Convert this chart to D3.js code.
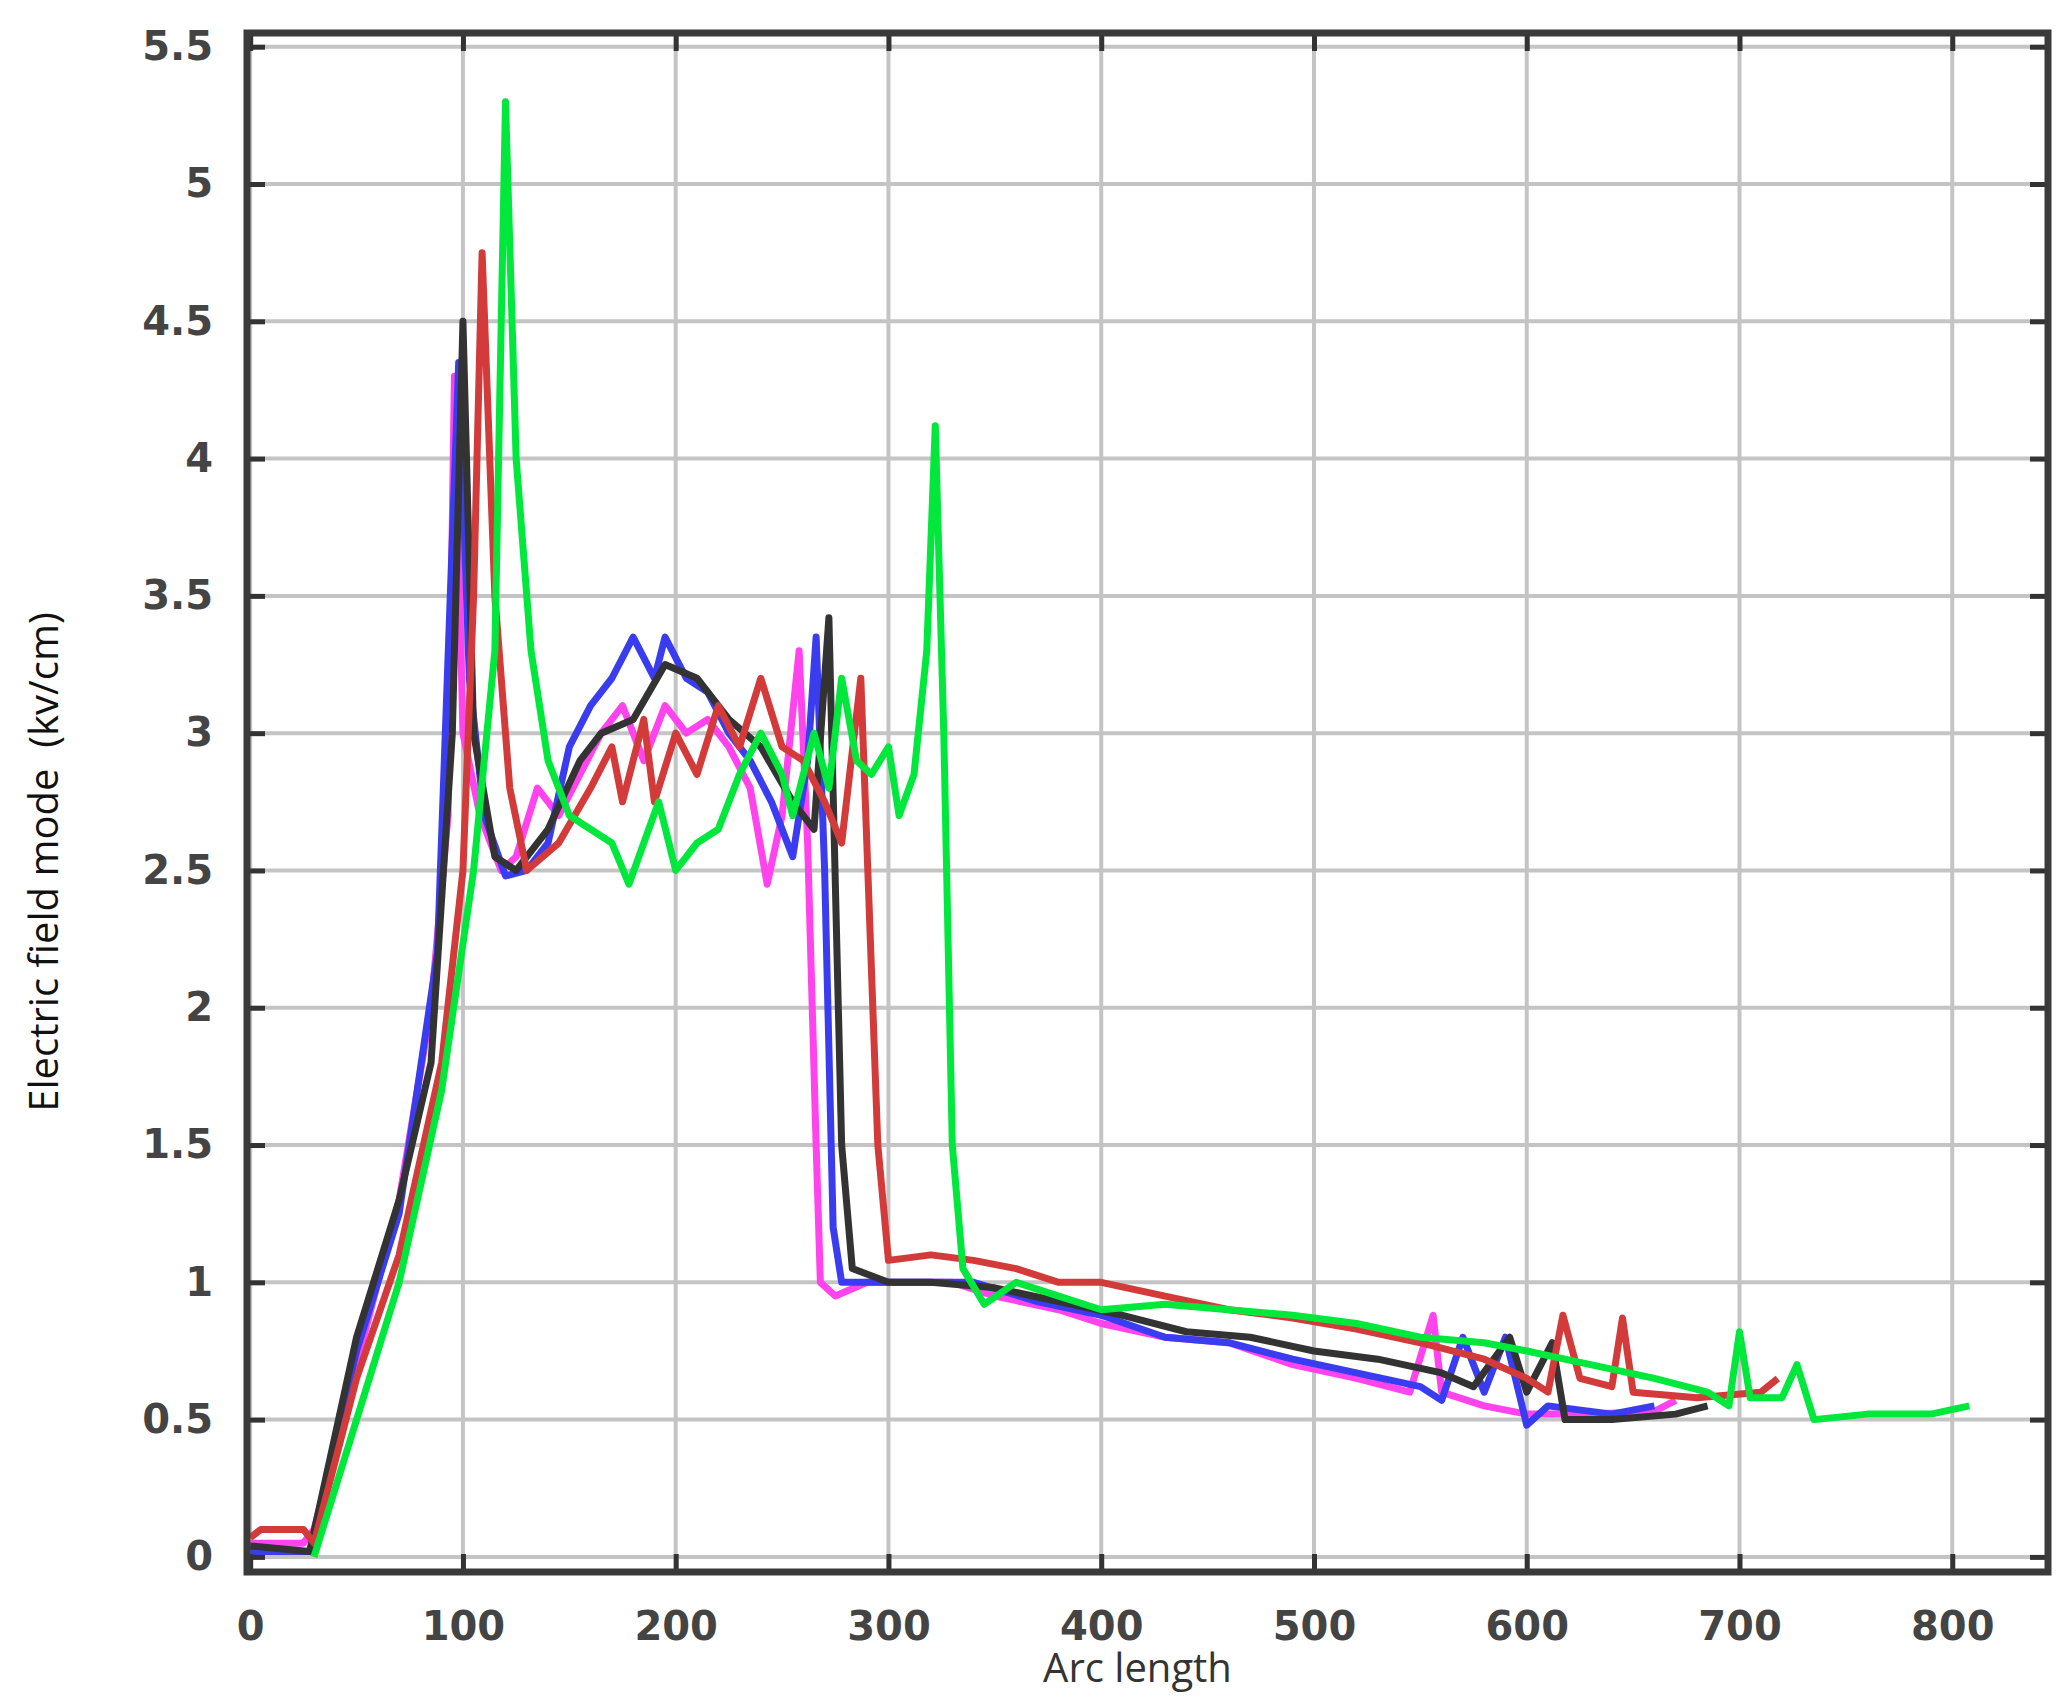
<!DOCTYPE html>
<html>
<head>
<meta charset="utf-8">
<script src="https://cdn.jsdelivr.net/npm/d3@7"></script>
<style>
  body { margin: 0; background: #fff; }
  .tick text { font-family: "DejaVu Sans", sans-serif; font-weight: bold; fill: #444; }
</style>
</head>
<body>
<svg id="chart" width="2070" height="1702"></svg>
<script>
const xTicks = [0, 100, 200, 300, 400, 500, 600, 700, 800];
const yTicks = [0, 0.5, 1, 1.5, 2, 2.5, 3, 3.5, 4, 4.5, 5, 5.5];

const magenta = [[0,0.05],[25,0.05],[30,0.1],[50,0.7],[70,1.3],[85,2.0],[93,2.7],[96,4.3],[100,3.0],[108,2.7],[118,2.5],[125,2.55],[135,2.8],[145,2.7],[155,2.85],[165,3.0],[175,3.1],[185,2.9],[195,3.1],[205,3.0],[215,3.05],[225,2.95],[235,2.8],[243,2.45],[250,2.7],[258,3.3],[262,2.6],[266,1.5],[268,1.0],[275,0.95],[290,1.0],[310,1.0],[330,1.0],[350,0.95],[380,0.9],[400,0.85],[430,0.8],[460,0.78],[490,0.7],[520,0.65],[545,0.6],[556,0.88],[560,0.6],[580,0.55],[600,0.52],[630,0.52],[660,0.53],[670,0.57]];
const blue = [[0,0.02],[28,0.02],[50,0.75],[70,1.25],[88,2.2],[98,4.35],[103,3.2],[110,2.7],[120,2.48],[130,2.5],[140,2.6],[150,2.95],[160,3.1],[170,3.2],[180,3.35],[190,3.2],[195,3.35],[205,3.2],[215,3.15],[225,3.0],[235,2.9],[245,2.75],[255,2.55],[262,2.9],[266,3.35],[270,2.5],[274,1.2],[278,1.0],[295,1.0],[320,1.0],[340,1.0],[370,0.93],[400,0.88],[430,0.8],[460,0.78],[490,0.72],[520,0.67],[550,0.62],[560,0.57],[570,0.8],[580,0.6],[590,0.8],[600,0.48],[610,0.55],[640,0.52],[660,0.55]];
const black = [[0,0.04],[28,0.02],[50,0.8],[70,1.3],[85,1.8],[95,3.0],[100,4.5],[105,3.0],[115,2.55],[125,2.5],[140,2.65],[155,2.9],[165,3.0],[180,3.05],[195,3.25],[210,3.2],[225,3.05],[240,2.95],[255,2.75],[265,2.65],[272,3.42],[278,1.5],[283,1.05],[300,1.0],[320,1.0],[350,0.98],[380,0.93],[410,0.88],[440,0.82],[470,0.8],[500,0.75],[530,0.72],[560,0.67],[575,0.62],[592,0.8],[600,0.6],[612,0.78],[618,0.5],[640,0.5],[670,0.52],[685,0.55]];
const red = [[0,0.07],[5,0.1],[25,0.1],[30,0.05],[50,0.65],[70,1.1],[90,1.8],[100,2.5],[105,3.5],[109,4.75],[115,3.5],[122,2.8],[130,2.5],[145,2.6],[160,2.8],[170,2.95],[175,2.75],[185,3.05],[190,2.75],[200,3.0],[210,2.85],[220,3.1],[230,2.95],[240,3.2],[250,2.95],[260,2.9],[270,2.75],[278,2.6],[287,3.2],[295,1.5],[300,1.08],[320,1.1],[340,1.08],[360,1.05],[380,1.0],[400,1.0],[430,0.95],[460,0.9],[490,0.87],[520,0.83],[550,0.78],[580,0.72],[600,0.65],[610,0.6],[617,0.88],[625,0.65],[640,0.62],[645,0.87],[650,0.6],[680,0.58],[710,0.6],[718,0.65]];
const green = [[30,0],[50,0.5],[70,1.0],[90,1.7],[105,2.5],[115,3.3],[120,5.3],[125,4.0],[132,3.3],[140,2.9],[150,2.7],[160,2.65],[170,2.6],[178,2.45],[185,2.6],[192,2.75],[200,2.5],[210,2.6],[220,2.65],[230,2.85],[240,3.0],[250,2.85],[255,2.7],[265,3.0],[272,2.8],[278,3.2],[285,2.9],[292,2.85],[300,2.95],[305,2.7],[312,2.85],[318,3.3],[322,4.12],[326,3.0],[330,1.5],[335,1.05],[345,0.92],[360,1.0],[380,0.95],[400,0.9],[430,0.92],[460,0.9],[490,0.88],[520,0.85],[550,0.8],[580,0.78],[600,0.75],[630,0.7],[660,0.65],[685,0.6],[695,0.55],[700,0.82],[705,0.58],[720,0.58],[727,0.7],[735,0.5],[760,0.52],[790,0.52],[808,0.55]];

const series = [
  {data: magenta, color: "#ff44ee"},
  {data: blue, color: "#3a3cf0"},
  {data: black, color: "#333333"},
  {data: red, color: "#d33b3b"},
  {data: green, color: "#00e83c"}
];

const svg = d3.select("#chart");
const mLeft = 247, mRight = 2048, mTop = 33, mBottom = 1572;

const x = d3.scaleLinear().domain([-1.5, 845]).range([mLeft, mRight]);
const y = d3.scaleLinear().domain([-0.055, 5.55]).range([mBottom, mTop]);

// grid
svg.append("g").selectAll("line").data(xTicks).join("line")
  .attr("x1", d => x(d)).attr("x2", d => x(d)).attr("y1", mTop).attr("y2", mBottom)
  .attr("stroke", "#c4c4c4").attr("stroke-width", 4);
svg.append("g").selectAll("line").data(yTicks).join("line")
  .attr("x1", mLeft).attr("x2", mRight).attr("y1", d => y(d)).attr("y2", d => y(d))
  .attr("stroke", "#c4c4c4").attr("stroke-width", 4);

const line = d3.line().x(d => x(d[0])).y(d => y(d[1]));
svg.append("g").selectAll("path").data(series).join("path")
  .attr("d", d => line(d.data))
  .attr("fill", "none")
  .attr("stroke", d => d.color)
  .attr("stroke-width", 7)
  .attr("stroke-linejoin", "round");

// axes
svg.append("g").attr("transform", `translate(0,${mBottom})`)
  .call(d3.axisBottom(x).tickValues(xTicks).tickSize(-18).tickPadding(40));
svg.append("g").attr("transform", `translate(${mLeft},0)`)
  .call(d3.axisLeft(y).tickValues(yTicks).tickSize(-18).tickPadding(34).tickFormat(d3.format("")));
svg.append("g").attr("transform", `translate(0,${mTop})`)
  .call(d3.axisTop(x).tickValues(xTicks).tickSize(-18).tickFormat(""));
svg.append("g").attr("transform", `translate(${mRight},0)`)
  .call(d3.axisRight(y).tickValues(yTicks).tickSize(-18).tickFormat(""));

svg.selectAll(".domain").remove();
svg.selectAll(".tick line").attr("stroke", "#333").attr("stroke-width", 5);
svg.selectAll(".tick text").attr("font-size", 40);

svg.append("rect")
  .attr("x", mLeft).attr("y", mTop).attr("width", mRight - mLeft).attr("height", mBottom - mTop)
  .attr("fill", "none").attr("stroke", "#3a3a3a").attr("stroke-width", 7);

svg.append("text")
  .attr("x", (mLeft + mRight) / 2 - 10).attr("y", 1682)
  .attr("text-anchor", "middle")
  .attr("font-family", "Open Sans, sans-serif").attr("font-size", 40).attr("fill", "#333")
  .text("Arc length");

svg.append("text")
  .attr("transform", "translate(58,862) rotate(-90)")
  .attr("text-anchor", "middle")
  .attr("font-family", "Open Sans, sans-serif").attr("font-size", 40).attr("fill", "#111")
  .attr("xml:space", "preserve")
  .text("Electric field mode  (kv/cm)");
</script>
</body>
</html>
